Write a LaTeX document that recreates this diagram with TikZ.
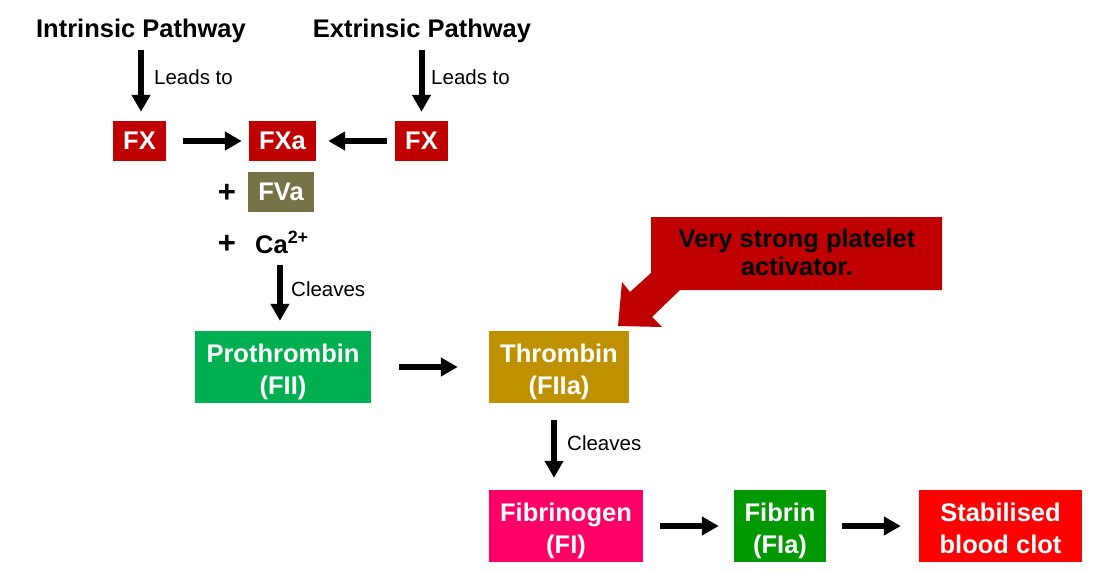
\documentclass[tikz,border=0pt]{standalone}
\usepackage{fontspec}
\setmainfont{Liberation Sans}
\usetikzlibrary{arrows.meta}

\definecolor{fxred}{HTML}{C00000}
\definecolor{fvaolive}{HTML}{767347}
\definecolor{progreen}{HTML}{00B050}
\definecolor{thrgold}{HTML}{BF9000}
\definecolor{fgnpink}{HTML}{FF0066}
\definecolor{fibgreen}{HTML}{009900}
\definecolor{clotred}{HTML}{FF0000}

\newcommand*{\bigfont}{\fontsize{25.5}{32}\selectfont\bfseries}
\newcommand*{\smallfont}{\fontsize{20.5}{24}\selectfont}
\newcommand*{\plusfont}{\fontsize{31}{31}\selectfont\bfseries}

\begin{document}
\begin{tikzpicture}[x=1pt, y=-1pt,
  factor/.style={fill=#1, text=white, font=\bigfont, inner sep=0pt, align=center, minimum height=40pt},
  stage/.style={factor=#1, minimum height=72pt, text height=54pt, text depth=0pt},
  heading/.style={font=\bigfont, inner sep=0pt},
  note/.style={font=\smallfont, inner sep=0pt, anchor=west},
  flow/.style={line width=6pt, -{Triangle[length=17pt, width=18pt]}}]
  \useasboundingbox (0,0) rectangle (1101,571);

  % pathways
  \node[heading, anchor=base] (intr) at (141,37) {Intrinsic Pathway};
  \node[heading, anchor=base] (extr) at (422,37) {Extrinsic Pathway};

  % factor X
  \node[factor=fxred, minimum width=53pt] (fxl) at (139.5,141) {FX};
  \node[factor=fxred, minimum width=67pt] (fxa) at (282.5,141) {FXa};
  \node[factor=fxred, minimum width=53pt] (fxr) at (421.5,141) {FX};
  \node[factor=fvaolive, minimum width=66pt] (fva) at (281,191.5) {FVa};
  \node[font=\plusfont, inner sep=0pt] (plusa) at (227,193.5) {+};
  \node[font=\plusfont, inner sep=0pt] (plusb) at (227,244) {+};
  \node[heading, anchor=base west] (ca) at (255,253) {Ca\textsuperscript{2+}};

  % thrombin
  \node[stage=progreen, minimum width=176pt] (pro) at (283,367) {Prothrombin\\(FII)};
  \node[stage=thrgold, minimum width=140pt] (thr) at (559,367) {Thrombin\\(FIIa)};

  % fibrin
  \node[stage=fgnpink, minimum width=154pt] (fgn) at (566,526) {Fibrinogen\\(FI)};
  \node[stage=fibgreen, minimum width=92pt] (fib) at (780,526) {Fibrin\\(FIa)};
  \node[stage=clotred, minimum width=163pt] (clot) at (1000.5,526) {Stabilised\\blood clot};

  % connectors
  \draw[flow, shorten <=8pt, shorten >=9pt] (intr.south) -- (intr.south |- fxl.north);
  \draw[flow, shorten <=8pt, shorten >=9pt] (extr.south -| fxr.north) -- (fxr.north);
  \node[note] (leadl) at (154,77) {Leads to};
  \node[note] (leadr) at (431,77) {Leads to};
  \draw[flow, shorten <=17pt, shorten >=7pt] (fxl.east) -- (fxa.west);
  \draw[flow, shorten <=8pt, shorten >=12pt] (fxr.west) -- (fxa.east);
  \draw[flow, shorten <=12pt, shorten >=10pt] ([xshift=-2pt]ca.south) -- ([xshift=-2pt]ca.south |- pro.north);
  \node[note] (cleavea) at (291,289) {Cleaves};
  \draw[flow, shorten <=28pt, shorten >=31pt] (pro.east) -- (thr.west);
  \draw[flow, shorten <=17pt, shorten >=12pt] ([xshift=-5pt]thr.south) -- ([xshift=-5pt]thr.south |- fgn.north);
  \node[note] (cleaveb) at (567,443) {Cleaves};
  \draw[flow, shorten <=17pt, shorten >=15pt] (fgn.east) -- (fib.west);
  \draw[flow, shorten <=16pt, shorten >=18pt] (fib.east) -- (clot.west);

  % callout
  \fill[fxred] (651,217) -- (942,217) -- (942,290) -- (680,290) -- (652,317) -- (662,327)
    -- (618,326) -- (622,282) -- (630,292) -- (651,273) -- cycle;
  \node[heading, align=center, font=\fontsize{25.5}{28}\selectfont\bfseries] (callout) at (797,252) {Very strong platelet\\activator.};
\end{tikzpicture}
\end{document}
